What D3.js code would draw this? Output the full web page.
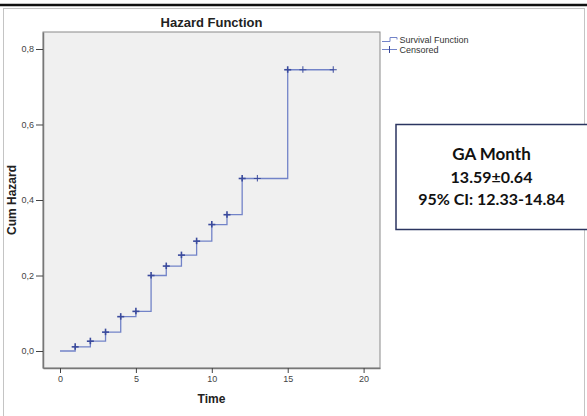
<!DOCTYPE html>
<html>
<head>
<meta charset="utf-8">
<script src="https://cdn.jsdelivr.net/npm/d3@7"></script>
<style>
  body { margin: 0; background: #fff; }
  svg { display: block; }
</style>
</head>
<body>
<div id="chart"></div>
<script>
/* step function values (time, cumulative hazard) */
const stepTimes = [0, 1, 2, 3, 4, 5, 6, 7, 8, 9, 10, 11, 12, 15, 18];
const cumHazard = [0, 0.011, 0.026, 0.050, 0.091, 0.105, 0.200, 0.225, 0.254, 0.291, 0.335, 0.361, 0.457, 0.745, 0.745];
/* censored cases */
const censoredTimes = [1, 2, 3, 4, 5, 6, 7, 8, 9, 10, 11, 12, 13, 15, 16, 18];
const censoredCount = [2, 2, 2, 2, 2, 2, 2, 2, 2, 2, 2, 2, 1, 2, 1, 1];
const xTicks = [0, 5, 10, 15, 20];
const yTicks = [0, 0.2, 0.4, 0.6, 0.8];
const legendLabels = ["Survival Function", "Censored"];
const boxLines = ["GA Month", "13.59\u00b10.64", "95% CI: 12.33-14.84"];

const w = 587, h = 416;
const plot = { left: 43, top: 32, right: 380, bottom: 368 };
const lineColor = "#7283c8";
const markColor = "#3a4a9c";

const svg = d3.select("#chart").append("svg")
  .attr("width", w)
  .attr("height", h);

// outer frame + top bar
svg.append("rect")
  .attr("x", 3.5).attr("y", 8.5)
  .attr("width", 581).attr("height", 420)
  .attr("fill", "none").attr("stroke", "#c4c4c4");
svg.append("line")
  .attr("x1", 0).attr("x2", w).attr("y1", 5).attr("y2", 5)
  .attr("stroke", "#111").attr("stroke-width", 2.5);

const xScale = d3.scaleLinear().domain([-1.12, 21.08]).range([plot.left, plot.right]);
const yScale = d3.scaleLinear().domain([-0.045, 0.845]).range([plot.bottom, plot.top]);

// plot background
svg.append("rect")
  .attr("x", plot.left).attr("y", plot.top)
  .attr("width", plot.right - plot.left).attr("height", plot.bottom - plot.top)
  .attr("fill", "#f0f0f0").attr("stroke", "#8a8a8a").attr("stroke-width", 1);

const commaFmt = d => d3.format(".1f")(d).replace(".", ",");

// axes
const xAxis = svg.append("g")
  .attr("transform", `translate(0, ${plot.bottom})`)
  .call(d3.axisBottom(xScale).tickValues(xTicks).tickSizeInner(5).tickSizeOuter(0).tickPadding(3));
const yAxis = svg.append("g")
  .attr("transform", `translate(${plot.left}, 0)`)
  .call(d3.axisLeft(yScale).tickValues(yTicks).tickFormat(commaFmt).tickSizeInner(7).tickSizeOuter(0).tickPadding(2));

[xAxis, yAxis].forEach(function(ax) {
  ax.select(".domain").attr("stroke", "#777").attr("stroke-width", 1.5);
  ax.selectAll(".tick line").attr("stroke", "#444");
  ax.selectAll(".tick text")
    .attr("fill", "#444")
    .style("font-family", "Arial, 'Liberation Sans', sans-serif")
    .style("font-size", "9px");
});

// step line
const steps = stepTimes.map((t, i) => ({ t: t, v: cumHazard[i] }));
const line = d3.line()
  .x(d => xScale(d.t))
  .y(d => yScale(d.v))
  .curve(d3.curveStepAfter);

svg.append("path")
  .datum(steps)
  .attr("d", line)
  .attr("fill", "none")
  .attr("stroke", lineColor)
  .attr("stroke-width", 1.3);

// censored marks
function hazardAt(t) {
  let v = 0;
  steps.forEach(function(s) { if (s.t <= t) { v = s.v; } });
  return v;
}
const marks = censoredTimes.map((t, i) => ({ t: t, v: hazardAt(t), n: censoredCount[i] }));
const markG = svg.append("g").attr("stroke", markColor);
marks.forEach(function(d) {
  const cx = xScale(d.t), cy = yScale(d.v);
  const sw = d.n > 1 ? 1.6 : 1;
  markG.append("line")
    .attr("x1", cx - 3.5).attr("x2", cx + 3.5).attr("y1", cy).attr("y2", cy)
    .attr("stroke-width", sw);
  markG.append("line")
    .attr("x1", cx).attr("x2", cx).attr("y1", cy - 3.5).attr("y2", cy + 3)
    .attr("stroke-width", sw);
});

// titles
const font = "Arial, 'Liberation Sans', sans-serif";
svg.append("text")
  .attr("x", (plot.left + plot.right) / 2).attr("y", 26.5)
  .attr("text-anchor", "middle")
  .style("font-family", font).style("font-size", "13px").style("font-weight", "bold")
  .attr("fill", "#222")
  .text("Hazard Function");
svg.append("text")
  .attr("x", (plot.left + plot.right) / 2).attr("y", 403)
  .attr("text-anchor", "middle")
  .style("font-family", font).style("font-size", "12px").style("font-weight", "bold")
  .attr("fill", "#222")
  .text("Time");
svg.append("text")
  .attr("transform", `translate(16, ${(plot.top + plot.bottom) / 2}) rotate(-90)`)
  .attr("text-anchor", "middle")
  .style("font-family", font).style("font-size", "12px").style("font-weight", "bold")
  .attr("fill", "#222")
  .text("Cum Hazard");

// legend
const lg = svg.append("g");
lg.append("path")
  .attr("d", "M382,41.5H390V37.5H397V39.5")
  .attr("fill", "none").attr("stroke", lineColor).attr("stroke-width", 1);
lg.append("line")
  .attr("x1", 382).attr("x2", 397).attr("y1", 49.5).attr("y2", 49.5)
  .attr("stroke", lineColor);
lg.append("line")
  .attr("x1", 389.5).attr("x2", 389.5).attr("y1", 46).attr("y2", 53)
  .attr("stroke", markColor);
lg.selectAll("text.leg")
  .data(legendLabels).enter()
  .append("text")
  .attr("class", "leg")
  .attr("x", 399.5)
  .attr("y", (d, i) => 42.5 + i * 10)
  .style("font-family", font).style("font-size", "9px")
  .attr("fill", "#333")
  .text(d => d);

// annotation box
svg.append("rect")
  .attr("x", 396).attr("y", 124.5)
  .attr("width", 200).attr("height", 105)
  .attr("fill", "#fff").attr("stroke", "#2b3560").attr("stroke-width", 1.5);
svg.selectAll("text.box")
  .data(boxLines).enter()
  .append("text")
  .attr("class", "box")
  .attr("x", 491.5)
  .attr("y", (d, i) => 160 + i * 22.5)
  .attr("text-anchor", "middle")
  .style("font-family", "Lato, 'Open Sans', sans-serif")
  .style("font-size", (d, i) => i === 0 ? "17px" : "16px").style("font-weight", "bold")
  .attr("fill", "#111")
  .text(d => d);
</script>
</body>
</html>
